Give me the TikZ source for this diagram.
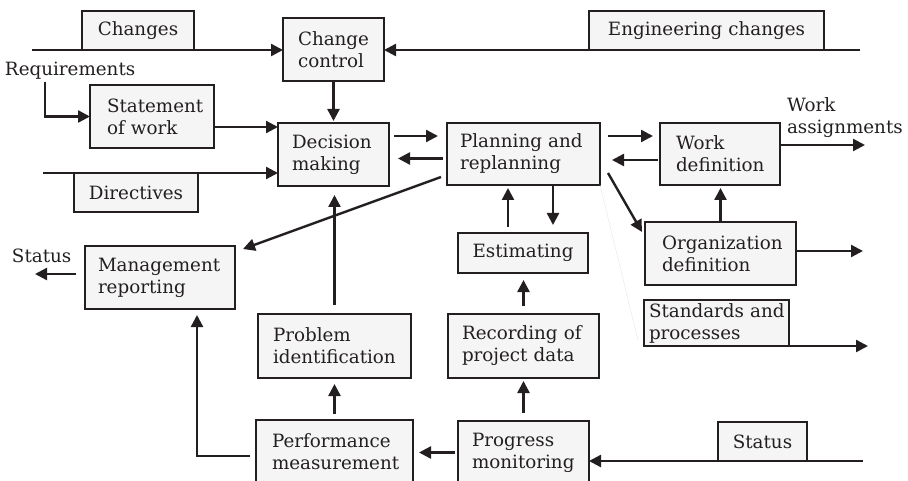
\documentclass[tikz,border=0pt]{standalone}
\usepackage{fontspec}
\setmainfont{DejaVu Serif}
\usetikzlibrary{arrows.meta}
\definecolor{ink}{HTML}{231F20}
\definecolor{boxfill}{HTML}{F5F5F5}
\hyphenpenalty=10000
\exhyphenpenalty=10000
\newcommand\lblfont{\fontsize{18.3}{22}\selectfont}

\begin{document}
\begin{tikzpicture}[x=1pt,y=-1pt,
  every node/.style={inner ysep=0pt, outer sep=0pt},
  blk/.style={draw=ink, fill=boxfill, line width=2.6pt, font=\lblfont, text=ink, align=left},
  tag/.style={draw=ink, fill=boxfill, line width=2.6pt, font=\lblfont, text=ink, align=center, inner xsep=4pt},
  lbl/.style={font=\lblfont, text=ink, inner sep=0pt},
  arr/.style={draw=ink, line width=2.4pt, -{Triangle[length=12pt,width=12pt]}},
  ghost/.style={draw=gray!20, line width=0.4pt}
]
\useasboundingbox (0,0) rectangle (908,481);

% --- free ends of the input and output lines
\coordinate (chgIn) at (32,50);
\coordinate (engIn) at (860,50);
\coordinate (reqTop) at (45,82);
\coordinate (dirIn) at (43,173);
\coordinate (waOut) at (865,145);
\coordinate (odOut) at (863,251);
\coordinate (spOut) at (868,346);
\coordinate (stIn) at (863,461);
\coordinate (stOut) at (35,274);

% --- process boxes
\node[blk, text width=71pt,  inner xsep=15pt, minimum height=63pt] (cc)   at (333.5,49.5) {Change\\control};
\node[blk, text width=90pt,  inner xsep=17pt, minimum height=63pt] (sow)  at (152,116.5)  {Statement\\of~work};
\node[blk, text width=83pt,  inner xsep=14pt, minimum height=63pt] (dm)   at (333.5,154.5) {Decision\\making};
\node[blk, text width=127pt, inner xsep=13pt, minimum height=62pt] (plan) at (523.5,154)  {Planning~and\\replanning};
\node[blk, text width=88pt,  inner xsep=16pt, minimum height=62pt] (wd)   at (720,154)    {Work\\definition};
\node[blk, text width=117pt, inner xsep=17pt, minimum height=63pt] (od)   at (720.5,253.5) {Organization\\definition};
\node[tag, text width=122pt, minimum height=40pt]                  (est)  at (523,253)    {Estimating};
\node[blk, text width=123pt, inner xsep=14pt, minimum height=64pt] (rec)  at (523.5,346)  {Recording~of\\project~data};
\node[blk, text width=103pt, inner xsep=14pt, minimum height=63pt] (prog) at (523.5,452.5) {Progress\\monitoring};
\node[blk, text width=135pt, inner xsep=5pt,  minimum height=46pt] (sp)   at (716.5,323)  {Standards~and\\processes};
\node[blk, text width=124pt, inner xsep=13pt, minimum height=63pt] (mr)   at (160,277.5)  {Management\\reporting};
\node[blk, text width=123pt, inner xsep=15pt, minimum height=64pt] (pi)   at (334.5,346)  {Problem\\identification};
\node[blk, text width=125pt, inner xsep=16pt, minimum height=63pt] (pm)   at (334.5,451.5) {Performance\\measurement};

% --- labels sitting on the input lines
\node[tag, text width=104pt, minimum height=39pt] (chg) at (138,30.5)   {Changes};
\node[tag, text width=227pt, minimum height=39pt] (eng) at (706.5,30.5) {Engineering~changes};
\node[tag, text width=116pt, minimum height=39pt] (dir) at (136,192.5)  {Directives};
\node[tag, text width=81pt,  minimum height=39pt] (sts) at (762.5,441.5) {Status};

% --- free text labels
\node[lbl, anchor=base west] (req) at (5,76) {Requirements};
\node[lbl, anchor=west, align=left] (wa) at (787,118) {Work\\assignments};
\node[lbl, anchor=base west] (stl) at (12,263) {Status};

% --- inputs
\draw[arr] (chgIn) -- (chgIn -| cc.west);
\draw[arr] (engIn) -- (engIn -| cc.east);
\draw[arr] (reqTop) |- (sow.west);
\draw[arr] (dirIn) -- (dirIn -| dm.west);
\draw[arr] (stIn) -- (stIn -| prog.east);

% --- main flow
\draw[arr, shorten >=2pt] (cc.south) -- (dm.north);
\coordinate (s1) at ([yshift=-10.5pt]sow.east);
\draw[arr] (s1) -- (s1 -| dm.west);

\coordinate (dp1) at ([yshift=18.5pt]dm.east);
\draw[arr, shorten <=5pt, shorten >=9pt] (dp1) -- (dp1 -| plan.west);
\coordinate (dp2) at ([yshift=-4.5pt]plan.west);
\draw[arr, shorten <=4pt, shorten >=9pt] (dp2) -- (dp2 -| dm.east);

\coordinate (pw1) at ([yshift=18pt]plan.east);
\draw[arr, shorten <=8pt, shorten >=7pt] (pw1) -- (pw1 -| wd.west);
\coordinate (pw2) at ([yshift=-6pt]wd.west);
\draw[arr, shorten <=2pt, shorten >=12pt] (pw2) -- (pw2 -| plan.east);

\coordinate (w1) at ([yshift=9pt]wd.east);
\draw[arr] (w1) -- (w1 -| waOut);
\coordinate (o1) at ([yshift=2.5pt]od.east);
\draw[arr] (o1) -- (o1 -| odOut);
\draw[arr] (sp.south west) -- (spOut);
\draw[arr, shorten >=3pt] (od.north) -- (od.north |- wd.south);

\draw[arr] ([xshift=-6pt,yshift=8pt]plan.south west) -- ([xshift=8pt,yshift=-3pt]mr.north east);
\draw[arr] ([xshift=8pt,yshift=12pt]plan.south east) -- ([xshift=-3pt,yshift=-10pt]od.north west);
\draw[ghost] (plan.south east) -- ([xshift=-6pt,yshift=6pt]sp.south west);

% --- estimating loop
\coordinate (e1) at ([xshift=-15pt]est.north);
\draw[arr, shorten <=6pt, shorten >=3pt] (e1) -- (e1 |- plan.south);
\coordinate (e2) at ([xshift=30pt]est.north);
\draw[arr, shorten >=8pt] (e2 |- plan.south) -- (e2);
\draw[arr, shorten <=8pt, shorten >=7pt] (rec.north) -- (rec.north |- est.south);
\draw[arr, shorten <=8pt, shorten >=3pt] (prog.north) -- (prog.north |- rec.south);

% --- monitoring and reporting
\draw[arr, shorten <=3pt, shorten >=6pt] (prog.west) -- (prog.west -| pm.east);
\draw[arr, shorten <=6pt, shorten >=6pt] (pm.north) -- (pi.south);
\draw[arr, shorten <=9pt, shorten >=9pt] (pi.north) -- (pi.north |- dm.south);
\coordinate (pm1) at ([yshift=-4.5pt]pm.west);
\draw[arr, shorten <=6pt, shorten >=6pt] (pm1) -| ([xshift=37pt]mr.south);
\coordinate (m1) at ([yshift=3.5pt]mr.west);
\draw[arr, shorten <=9pt] (m1) -- (m1 -| stOut);
\end{tikzpicture}
\end{document}
